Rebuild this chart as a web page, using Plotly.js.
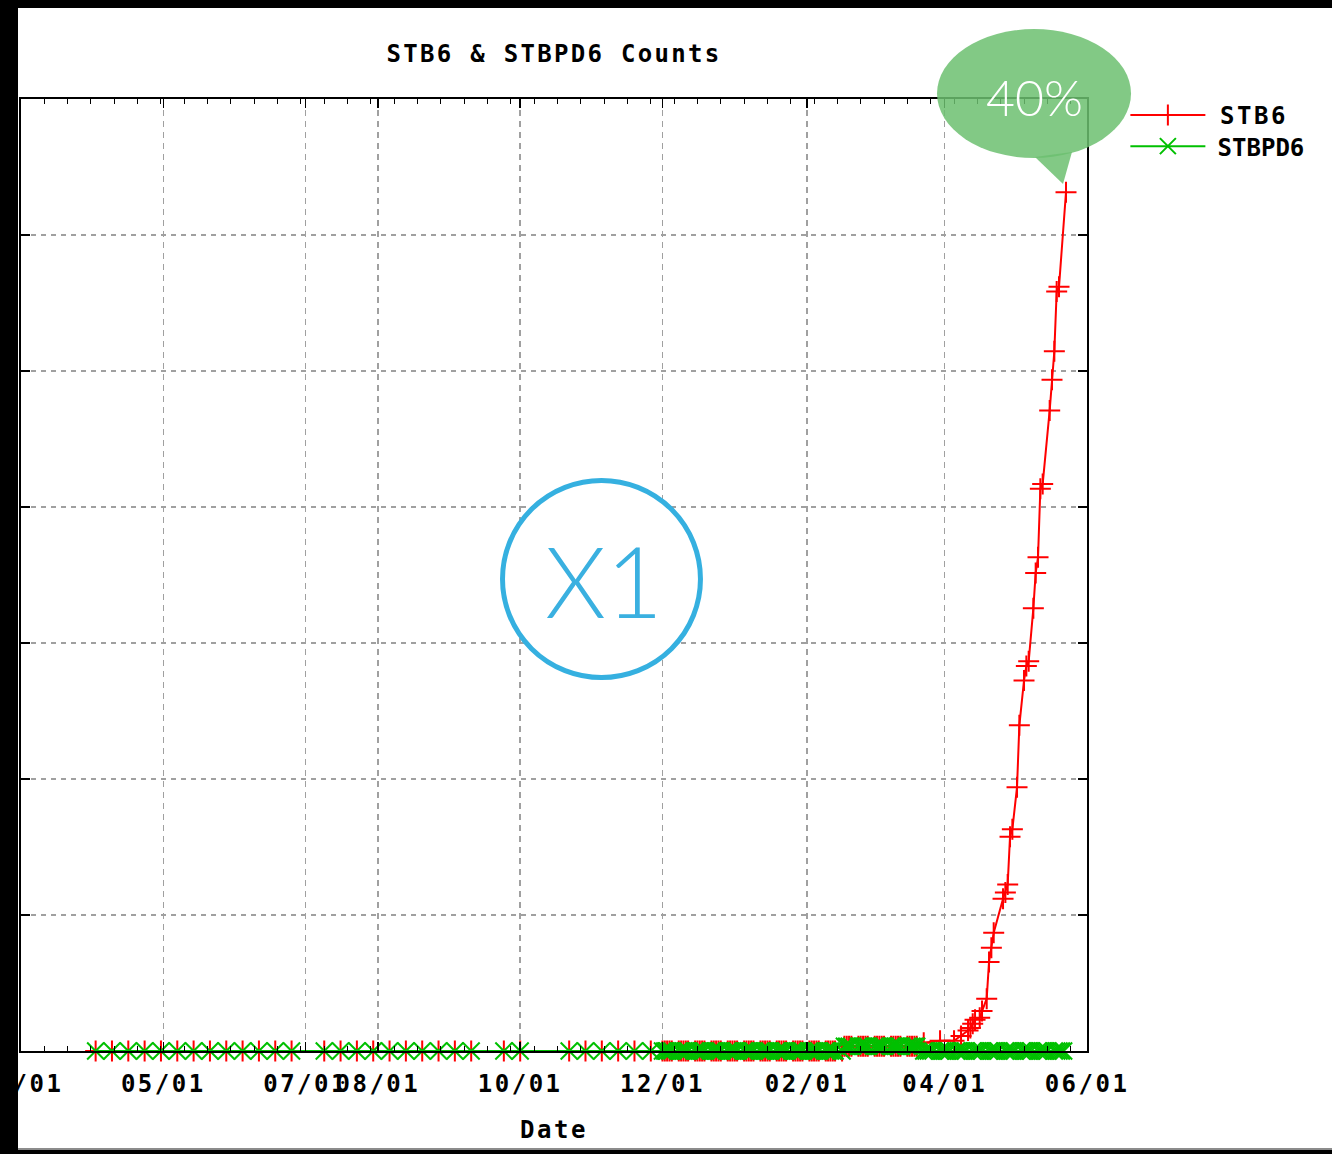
<!DOCTYPE html>
<html><head><meta charset="utf-8">
<script src="https://cdn.plot.ly/plotly-3.0.1.min.js"></script>
<style>
html,body{margin:0;padding:0;background:#000;width:1332px;height:1154px;overflow:hidden;}
#chart{position:absolute;left:18px;top:8px;width:1314px;height:1140px;background:#fff;}
#edge{position:absolute;left:18px;top:1148px;width:1314px;height:2px;background:#8c8c8c;}
.xtick text,.xtitle,.legendtext{letter-spacing:2.5px;}
.gtitle{letter-spacing:2.3px;}
</style></head><body><div id="chart"></div><div id="edge"></div>
<script>
// ---------- data ----------
const tickDates = ['2014-03-01','2014-05-01','2014-07-01','2014-08-01','2014-10-01','2014-12-01','2015-02-01','2015-04-01','2015-06-01'];
const tickLabels = ['03/01','05/01','07/01','08/01','10/01','12/01','02/01','04/01','06/01'];
const seriesNames = ['STB6','STBPD6'];

// weekly samples (2014)
const weeklyDates = [
 '2014-04-02','2014-04-09','2014-04-16','2014-04-23','2014-04-30',
 '2014-05-07','2014-05-14','2014-05-21','2014-05-28',
 '2014-06-04','2014-06-11','2014-06-18','2014-06-25',
 '2014-07-09','2014-07-16','2014-07-23','2014-07-30',
 '2014-08-06','2014-08-13','2014-08-20','2014-08-27',
 '2014-09-03','2014-09-10','2014-09-24','2014-10-01',
 '2014-10-22','2014-10-29','2014-11-05','2014-11-12','2014-11-19','2014-11-26'];
const stb6Weekly   = [0,0,0,0,0, 0,0,0,0, 0,0,0,0, 0,0,0,0, 0,0,0,0, 0,0,0,0, 0,0,0,0,0,0];
const stbpd6Weekly = [0,0,0,0,0, 0,0,0,0, 0,0,0,0, 0,0,0,0, 0,0,0,0, 0,0,0,0, 0,0,0,0,0,0];

// weekday samples, Dec 2014 - Mar 20 2015
const winterDates = [
 '2014-12-01','2014-12-02','2014-12-03','2014-12-04','2014-12-05',
 '2014-12-08','2014-12-09','2014-12-10','2014-12-11','2014-12-12',
 '2014-12-15','2014-12-16','2014-12-17','2014-12-18','2014-12-19',
 '2014-12-22','2014-12-23','2014-12-24','2014-12-25','2014-12-26',
 '2014-12-29','2014-12-30','2014-12-31','2015-01-01','2015-01-02',
 '2015-01-05','2015-01-06','2015-01-07','2015-01-08','2015-01-09',
 '2015-01-12','2015-01-13','2015-01-14','2015-01-15','2015-01-16',
 '2015-01-19','2015-01-20','2015-01-21','2015-01-22','2015-01-23',
 '2015-01-26','2015-01-27','2015-01-28','2015-01-29','2015-01-30',
 '2015-02-02','2015-02-03','2015-02-04','2015-02-05','2015-02-06',
 '2015-02-09','2015-02-10','2015-02-11','2015-02-12','2015-02-13',
 '2015-02-16','2015-02-17','2015-02-18','2015-02-19','2015-02-20',
 '2015-02-23','2015-02-24','2015-02-25','2015-02-26','2015-02-27',
 '2015-03-02','2015-03-03','2015-03-04','2015-03-05','2015-03-06',
 '2015-03-09','2015-03-10','2015-03-11','2015-03-12','2015-03-13',
 '2015-03-16','2015-03-17','2015-03-18','2015-03-19','2015-03-20'];
const stb6Winter = [
 0,0,0,0,0, 0,0,0,0,0, 0,0,0,0,0, 0,0,0,0,0, 0,0,0,0,0,
 0,0,0,0,0, 0,0,0,0,0, 0,0,0,0,0, 0,0,0,0,0, 0,0,0,0,0,
 0,0,0,0,0, 0,7,7,7,7, 7,7,7,7,7, 7,7,7,7,7, 7,7,7,7,7, 7,7,7,7,7];
const stbpd6Winter = [
 0,0,0,0,0, 0,0,0,0,0, 0,0,0,0,0, 0,0,0,0,0, 0,0,0,0,0,
 0,0,0,0,0, 0,0,0,0,0, 0,0,0,0,0, 0,0,0,0,0, 0,0,0,0,0,
 0,0,0,0,0, 0,7,7,7,7, 7,7,7,7,7, 7,7,7,7,7, 7,7,7,7,7, 7,7,7,7,7];

// STBPD6 weekday samples, Mar 23 - May 22 2015
const springDates = [
 '2015-03-23','2015-03-24','2015-03-25','2015-03-26','2015-03-27',
 '2015-03-30','2015-03-31','2015-04-01','2015-04-02','2015-04-03',
 '2015-04-06','2015-04-07','2015-04-08','2015-04-09','2015-04-10',
 '2015-04-13','2015-04-14','2015-04-15','2015-04-16','2015-04-17',
 '2015-04-20','2015-04-21','2015-04-22','2015-04-23','2015-04-24',
 '2015-04-27','2015-04-28','2015-04-29','2015-04-30','2015-05-01',
 '2015-05-04','2015-05-05','2015-05-06','2015-05-07','2015-05-08',
 '2015-05-11','2015-05-12','2015-05-13','2015-05-14','2015-05-15',
 '2015-05-18','2015-05-19','2015-05-20','2015-05-21','2015-05-22'];
const stbpd6Spring = [0,0,0,0,0, 0,0,0,0,0, 0,0,0,0,0, 0,0,0,0,0, 0,0,0,0,0, 0,0,0,0,0, 0,0,0,0,0, 0,0,0,0,0, 0,0,0,0,0];

// STB6 growth, Mar 23 - May 23 2015
const stb6RiseDates = [
 '2015-03-23','2015-03-30','2015-04-05','2015-04-08','2015-04-11','2015-04-12','2015-04-13','2015-04-14',
 '2015-04-16','2015-04-17','2015-04-19','2015-04-20','2015-04-21','2015-04-22','2015-04-26','2015-04-27',
 '2015-04-28','2015-04-29','2015-04-30','2015-05-02','2015-05-03','2015-05-05','2015-05-06','2015-05-07',
 '2015-05-09','2015-05-10','2015-05-11','2015-05-12','2015-05-13','2015-05-16','2015-05-17','2015-05-18',
 '2015-05-19','2015-05-20','2015-05-23'];
const stb6RiseValues = [
 12,15,15,22,30,34,40,46,
 49,59,77,131,152,174,224,233,
 245,315,326,388,479,545,566,573,
 651,703,726,827,834,942,987,1029,
 1117,1124,1263];

// ---------- chart ----------
const monoBold = {family:'DejaVu Sans Mono', size:24, color:'#000', weight:'bold'};
const pad = '<span style="font-size:12px">\u00a0</span>';

const traces = [
 {
  name: pad + seriesNames[0], type:'scatter', mode:'lines+markers', legend:'legend', cliponaxis:false,
  x: weeklyDates.concat(winterDates, stb6RiseDates),
  y: stb6Weekly.concat(stb6Winter, stb6RiseValues),
  line:{color:'#ff0000', width:2},
  marker:{symbol:'cross-thin-open', size:15, color:'#ff0000', line:{color:'#ff0000', width:2}}
 },
 {
  name: pad + seriesNames[1], type:'scatter', mode:'lines+markers', legend:'legend2', cliponaxis:false,
  x: weeklyDates.concat(winterDates, springDates),
  y: stbpd6Weekly.concat(stbpd6Winter, stbpd6Spring),
  line:{color:'#00c000', width:2},
  marker:{symbol:'x-thin-open', size:17, color:'#00c000', line:{color:'#00c000', width:2}}
 }
];

const gridC = '#a0a0a0';
const legendBase = {x:1.036, xanchor:'left', yanchor:'top', font:monoBold, itemwidth:75, bgcolor:'rgba(0,0,0,0)'};
const layout = {
 width:1314, height:1140,
 margin:{l:3, r:245, t:91, b:97},
 paper_bgcolor:'#fff', plot_bgcolor:'#fff',
 showlegend:true,
 title:{text:'STB6 & STBPD6 Counts', font:monoBold, x:0.5, xref:'paper', y:1-46/1140, yref:'container', yanchor:'middle'},
 xaxis:{
  type:'date', range:['2014-03-01','2015-06-01'],
  tickmode:'array', tickvals:tickDates, ticktext:tickLabels, tickangle:0, ticklabeloverflow:'allow',
  ticks:'inside', ticklen:9, tickwidth:1.5, tickcolor:'#000',
  showline:true, linewidth:2, linecolor:'#000', mirror:'ticks',
  showgrid:true, gridcolor:gridC, gridwidth:1.5, griddash:'6px,5px',
  zeroline:false, tickfont:monoBold, ticklabelstandoff:10,
  minor:{ticks:'inside', ticklen:5, tickwidth:1, tickcolor:'#000', tickmode:'linear', tick0:'2014-03-01', dtick:864000000, showgrid:false},
  title:{text:'Date', font:monoBold, standoff:24}
 },
 yaxis:{
  range:[0,1400], tickmode:'linear', tick0:0, dtick:200, showticklabels:false,
  ticks:'inside', ticklen:9, tickwidth:1.5, tickcolor:'#000',
  showline:true, linewidth:2, linecolor:'#000', mirror:'ticks',
  showgrid:true, gridcolor:gridC, gridwidth:1.5, griddash:'5px,5px', zeroline:false
 },
 legend:Object.assign({}, legendBase, {y:1.0063}),
 legend2:Object.assign({}, legendBase, {y:0.9737}),
 shapes:[
  {type:'circle', xref:'paper', yref:'paper', x0:0.4517, x1:0.6374, y0:0.3923, y1:0.5993,
   fillcolor:'#ffffff', line:{color:'#35b0e0', width:5}, layer:'above'},
  {type:'circle', xref:'paper', yref:'paper', x0:0.8593, x1:1.0413, y0:0.9380, y1:1.0735,
   fillcolor:'rgb(108,192,112)', opacity:0.85, line:{width:0}, layer:'above'},
  {type:'path', xref:'paper', yref:'paper', path:'M0.9512,0.9391 L0.9775,0.9107 L0.9859,0.9443 Z',
   fillcolor:'rgb(108,192,112)', opacity:0.85, line:{width:0}, layer:'above'}
 ],
 annotations:[
  {xref:'paper', yref:'paper', x:0.5469, y:0.4948, text:'X1', showarrow:false, xanchor:'center', yanchor:'middle',
   font:{family:'Lato', size:98, color:'#3ab0e0', weight:300}},
  {xref:'paper', yref:'paper', x:0.9512, y:1.0021, text:'40%', showarrow:false, xanchor:'center', yanchor:'middle',
   font:{family:'Lato', size:50, color:'#ffffff', weight:300}}
 ]
};

Plotly.newPlot('chart', traces, layout, {displayModeBar:false, staticPlot:true});
</script></body></html>
